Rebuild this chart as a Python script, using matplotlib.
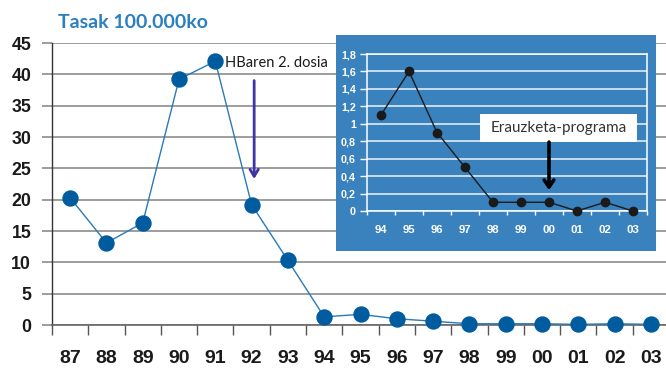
import matplotlib
matplotlib.use('Agg')
import matplotlib.pyplot as plt
from matplotlib.patches import Rectangle
import numpy as np

# ---------------- data ----------------
years_main = ['87', '88', '89', '90', '91', '92', '93', '94', '95', '96',
              '97', '98', '99', '00', '01', '02', '03']
rate_main = [20.3, 13.1, 16.3, 39.2, 42.1, 19.2, 10.3, 1.3, 1.7, 1.0,
             0.6, 0.2, 0.2, 0.2, 0.1, 0.2, 0.1]

years_inset = ['94', '95', '96', '97', '98', '99', '00', '01', '02', '03']
rate_inset = [1.1, 1.6, 0.9, 0.5, 0.1, 0.1, 0.1, 0.0, 0.1, 0.0]

main_yticks = list(range(0, 50, 5))
inset_yticks = [0, 0.2, 0.4, 0.6, 0.8, 1.0, 1.2, 1.4, 1.6, 1.8]
inset_ylabels = ['0', '0,2', '0,4', '0,6', '0,8', '1', '1,2', '1,4', '1,6', '1,8']

subtitle = 'Tasak 100.000ko'
note_main = 'HBaren 2. dosia'
note_inset = 'Erauzketa-programa'

# ---------------- style ----------------
plt.rcParams['font.family'] = ['Liberation Sans', 'DejaVu Sans']
LINE_BLUE = '#2a7ab8'
MARK_BLUE = '#005c9f'
GRID_GREY = '#8c8c8c'
BOX_BLUE = '#3a82be'
TITLE_BLUE = '#2b80c0'
ANNOT_FONT = ['Lato', 'DejaVu Sans']

W, H = 666, 369
fig = plt.figure(figsize=(W / 100, H / 100), dpi=100)
fig.patch.set_facecolor('white')

# ---------------- main axes ----------------
ax = fig.add_axes([52 / W, 1 - 325 / H, 617 / W, (325 - 43) / H])
ax.set_zorder(0)
n = len(years_main)
x = np.arange(n)
ax.plot(x, rate_main, color=LINE_BLUE, lw=1.0, marker='o', ms=10.8,
        mfc=MARK_BLUE, mec=MARK_BLUE, zorder=3, clip_on=False)
ax.set_xlim(-0.5, n - 0.5)
ax.set_ylim(0, 45)

ax.set_yticks(main_yticks)
ax.set_yticklabels([str(v) for v in main_yticks], fontweight='bold', fontsize=12.8)
ax.yaxis.grid(True, color=GRID_GREY, lw=1.2)
ax.set_axisbelow(True)
ax.tick_params(axis='y', length=7, width=1.2, color=GRID_GREY, pad=8, labelcolor='#1a1a1a')

ax.set_xticks(np.arange(-0.5, n, 1))
ax.set_xticklabels([])
ax.set_xticks(x, minor=True)
ax.set_xticklabels(years_main, minor=True, fontweight='bold', fontsize=14)
ax.tick_params(axis='x', which='major', length=7, width=1.0, color='#555555', direction='out')
ax.tick_params(axis='x', which='minor', length=0, pad=18, labelcolor='#1a1a1a')

for s in ['top', 'right']:
    ax.spines[s].set_visible(False)
ax.spines['left'].set_color('#333333')
ax.spines['left'].set_linewidth(1.0)
ax.spines['bottom'].set_color('#666666')
ax.spines['bottom'].set_linewidth(1.2)

# annotation main
ax.text(4.27, 41.1, note_main, va='baseline', ha='left', fontsize=10.5,
        family=ANNOT_FONT, color='#1a1a1a')
ax.annotate('', xy=(5.07, 23.3), xytext=(5.07, 39.0),
            arrowprops=dict(arrowstyle='->,head_length=0.5,head_width=0.3',
                            color='#3d35a5', lw=2.0, shrinkA=0, shrinkB=0))

# subtitle
fig.text(58 / W, 1 - 28 / H, subtitle, va='baseline', ha='left', fontsize=14,
         fontweight='bold', family=ANNOT_FONT, color=TITLE_BLUE)

# ---------------- inset box ----------------
rect = Rectangle((336 / W, 1 - 251 / H), (656 - 336) / W, (251 - 35) / H,
                 transform=fig.transFigure, facecolor=BOX_BLUE, edgecolor='none', zorder=1)
fig.add_artist(rect)

axi = fig.add_axes([367 / W, 1 - 211 / H, 280 / W, 157 / H])
axi.set_zorder(2)
axi.patch.set_visible(False)
ni = len(years_inset)
xi = np.arange(ni)
axi.plot(xi, rate_inset, color='#1a1a1a', lw=1.0, marker='o', ms=6.0,
         mfc='#1a1a1a', mec='#1a1a1a', zorder=3, clip_on=False)
axi.set_xlim(-0.5, ni - 0.5)
axi.set_ylim(0, 1.8)
axi.set_yticks(inset_yticks)
axi.set_yticklabels(inset_ylabels, fontweight='bold', fontsize=7.7)
axi.yaxis.grid(True, color='#f0f4f8', lw=1.1)
axi.set_axisbelow(True)
axi.tick_params(axis='y', length=5, width=1.0, color='white', pad=3, labelcolor='white')

axi.set_xticks(np.arange(-0.5, ni, 1))
axi.set_xticklabels([])
axi.set_xticks(xi, minor=True)
axi.set_xticklabels(years_inset, minor=True, fontweight='bold', fontsize=8.2)
axi.tick_params(axis='x', which='major', length=3, width=1.0, color='white', direction='out')
axi.tick_params(axis='x', which='minor', length=0, pad=10, labelcolor='white')
for s in ['left', 'bottom', 'right', 'top']:
    axi.spines[s].set_color('white')
    axi.spines[s].set_linewidth(1.1)

# inset annotation
box = Rectangle((113 / 280, 69 / 157), 157 / 280, 28 / 157, transform=axi.transAxes,
                facecolor='white', edgecolor='none', zorder=4, clip_on=False)
axi.add_patch(box)
axi.text((113 + 157 / 2) / 280, (69 + 14) / 157, note_inset, transform=axi.transAxes,
         ha='center', va='center', fontsize=11, family=ANNOT_FONT, color='#333333',
         zorder=5)
axi.annotate('', xy=(6, 0.24), xytext=(6, 0.79),
             arrowprops=dict(arrowstyle='->,head_length=0.5,head_width=0.35',
                             color='black', lw=2.6, shrinkA=0, shrinkB=0), zorder=5)

fig.savefig('out.png', dpi=100, facecolor='white')
